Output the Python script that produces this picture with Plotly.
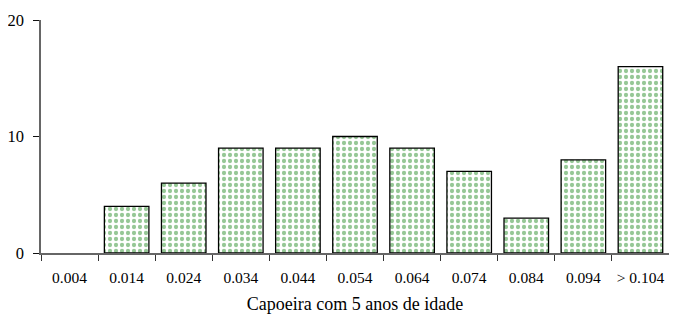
import plotly.graph_objects as go

categories = ["0.004", "0.014", "0.024", "0.034", "0.044", "0.054", "0.064", "0.074", "0.084", "0.094", "> 0.104"]
values = [0, 4, 6, 9, 9, 10, 9, 7, 3, 8, 16]
y_ticks = [0, 10, 20]
x_title = "Capoeira com 5 anos de idade"

FONT = "Liberation Serif, Times New Roman, serif"

line_widths = [0 if v == 0 else 1.3 for v in values]

fig = go.Figure(go.Bar(
    x=categories, y=values,
    marker=dict(
        color="white",
        line=dict(color="black", width=line_widths),
        pattern=dict(shape=".", fgcolor="#2e8f2e", bgcolor="white", size=6, solidity=0.4),
    ),
))

# the page body has an 8px margin; size the figure so the page does not overflow
fig.update_layout(
    width=661, height=306,
    margin=dict(l=33, r=0, t=12, b=61),
    paper_bgcolor="white", plot_bgcolor="white",
    bargap=0.22,
    showlegend=False,
    font=dict(family=FONT, size=17, color="black"),
    xaxis=dict(
        type="category", range=[-0.5, 10.5], automargin=False,
        showline=True, linecolor="#666", linewidth=1.5,
        ticks="outside", tickson="boundaries", ticklen=6, tickcolor="#333",
        ticklabelstandoff=10, tickangle=0, ticklabeloverflow="allow",
        showgrid=False, tickfont=dict(family=FONT, size=15.5, color="black"),
        title=dict(text=x_title, font=dict(family=FONT, size=18, color="black"), standoff=14),
    ),
    yaxis=dict(
        range=[0, 20], tickvals=y_ticks, automargin=False,
        showline=True, linecolor="#666", linewidth=1.5,
        ticks="outside", ticklen=6, tickcolor="#111",
        ticklabelstandoff=6,
        showgrid=False, zeroline=False, tickfont=dict(family=FONT, size=16.5, color="black"),
    ),
)

fig.write_html("out.html")
